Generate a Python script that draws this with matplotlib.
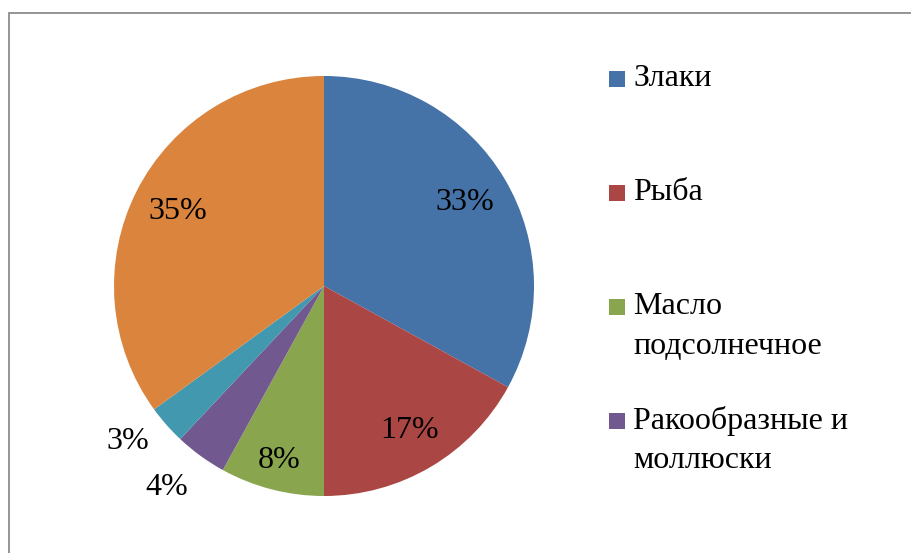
import matplotlib.pyplot as plt
import numpy as np
from matplotlib.patches import Rectangle

# data
labels = ["Злаки", "Рыба", "Масло\nподсолнечное", "Ракообразные и\nмоллюски", "", ""]
values = [33, 17, 8, 4, 3, 35]
colors = ["#4572A7", "#AA4643", "#89A54E", "#71588F", "#4198AF", "#DB843D"]
label_dist = [0.78, 0.80, 0.86, 1.22, 1.19, 0.78]
label_shift = [0, 0, 0, -2, -3, 0]  # small angle tweaks, degrees

W, H = 911, 553
plt.rcParams['font.family'] = ['Liberation Serif', 'DejaVu Serif']

fig = plt.figure(figsize=(W / 100, H / 100), dpi=100)

# outer chart border (runs off the right and bottom edges)
fig.patches.append(Rectangle((9 / W, -0.1), 1.1, (H - 13) / H + 0.1,
                             transform=fig.transFigure, fill=False,
                             edgecolor="#8c8c8c", linewidth=1.3))

cx, cy, r = 324, 286, 210
ax = fig.add_axes([(cx - r) / W, (H - cy - r) / H, 2 * r / W, 2 * r / H])
wedges, _ = ax.pie(values, colors=colors, startangle=90, counterclock=False,
                   radius=1, wedgeprops=dict(linewidth=0))
ax.set_xlim(-1, 1)
ax.set_ylim(-1, 1)
ax.set_aspect('equal')
ax.axis('off')

for w, v, d, s in zip(wedges, values, label_dist, label_shift):
    a = np.deg2rad((w.theta1 + w.theta2) / 2 + s)
    ax.text(d * np.cos(a), d * np.sin(a), f"{v}%", ha='center', va='center',
            fontsize=23, color='black')

# legend drawn by hand to match spacing
y0, step = 79, 114
for i, (lab, c) in enumerate(zip(labels[:4], colors[:4])):
    y = y0 + i * step
    fig.patches.append(Rectangle((609 / W, (H - y - 8) / H), 16 / W, 16 / H,
                                 transform=fig.transFigure, facecolor=c,
                                 edgecolor='none'))
    for k, line in enumerate(lab.split("\n")):
        fig.text(633 / W, (H - y - 40 * k) / H, line, ha='left',
                 va='center', fontsize=23)

fig.savefig("out.png", dpi=100)
